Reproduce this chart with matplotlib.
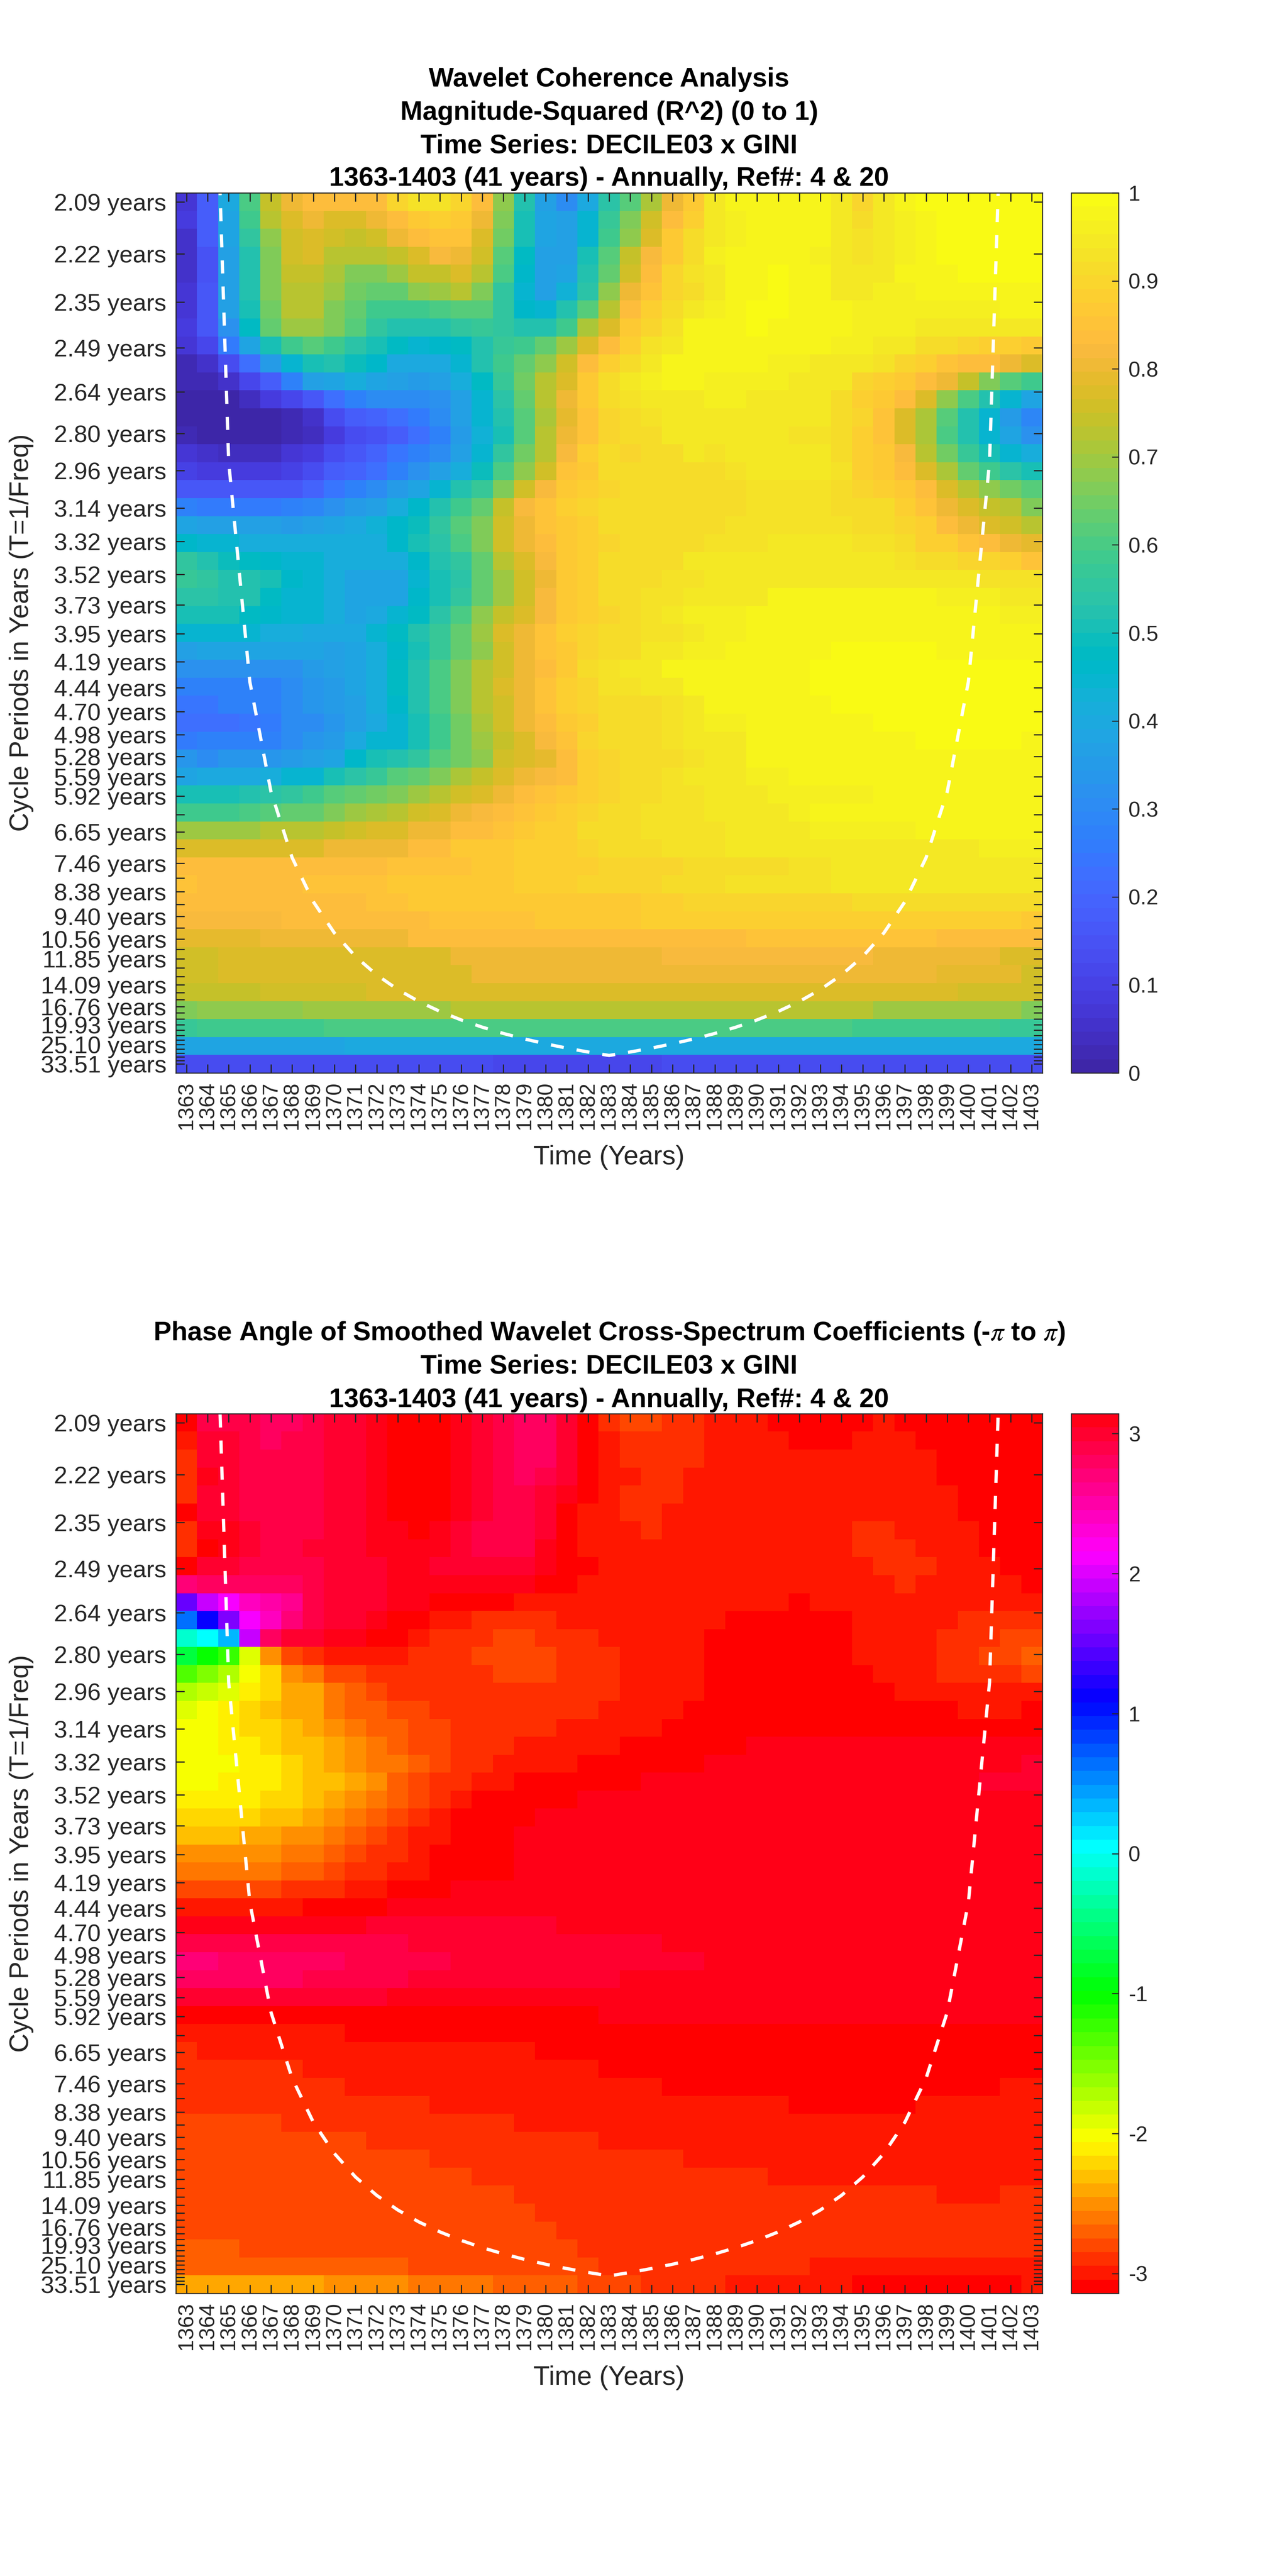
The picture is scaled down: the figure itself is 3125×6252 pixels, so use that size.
import colorsys

import numpy as np
import matplotlib
matplotlib.use("Agg")
import matplotlib.pyplot as plt
from matplotlib.colors import ListedColormap

plt.rcParams["font.family"] = ["Liberation Sans", "DejaVu Sans"]
plt.rcParams["mathtext.fontset"] = "stix"

# ---------- DATA ----------
YEARS = list(range(1363, 1404))

# cycle period of every row, top to bottom
PERIODS = [2.09, 2.22, 2.35, 2.49, 2.64, 2.80, 2.96, 3.14, 3.32, 3.52, 3.73, 3.95, 4.19, 4.44, 4.70, 4.98,
           5.28, 5.59, 5.92, 6.28, 6.65, 7.05, 7.46, 7.91, 8.38, 8.88, 9.40, 9.96, 10.56, 11.18, 11.85,
           12.55, 13.30, 14.09, 14.93, 15.82, 16.76, 17.76, 18.81, 19.93, 21.12, 22.37, 23.70, 25.10,
           26.60, 28.18, 29.85, 31.63, 33.51]

# periods that carry a label on the y axis (the other ticks stay blank)
LABELLED = [2.09, 2.22, 2.35, 2.49, 2.64, 2.80, 2.96, 3.14, 3.32, 3.52, 3.73, 3.95, 4.19, 4.44, 4.70, 4.98,
            5.28, 5.59, 5.92, 6.65, 7.46, 8.38, 9.40, 10.56, 11.85, 14.09, 16.76, 19.93, 25.10, 33.51]

# cone of influence, years 1364..1402, in years of period
COI_YEARS = list(range(1364, 1403))
COI_PERIODS = [1.46, 2.92, 4.38, 5.84, 7.30, 8.76, 10.22, 11.68, 13.14, 14.60, 16.06, 17.52, 18.98, 20.44,
               21.90, 23.36, 24.82, 26.28, 27.74, 29.20, 27.74, 26.28, 24.82, 23.36, 21.90, 20.44, 18.98,
               17.52, 16.06, 14.60, 13.14, 11.68, 10.22, 8.76, 7.30, 5.84, 4.38, 2.92, 1.46]

# magnitude-squared coherence in hundredths, one row per period
COHERENCE = [
    [7,18,40,60,74,81,83,83,83,84,90,93,93,90,83,68,52,36,31,40,54,62,71,81,87,94,97,97,97,97,97,95,90,94,97,99,99,99,99,99,99],
    [8,18,39,58,72,78,81,78,78,81,84,87,89,87,80,66,51,39,36,45,57,66,75,84,89,94,96,97,97,97,97,95,92,94,96,98,99,99,99,99,99],
    [6,18,38,55,68,76,78,76,74,76,80,84,85,85,77,65,51,38,36,45,59,68,77,86,91,94,96,97,97,97,97,95,93,94,96,97,99,99,99,99,99],
    [6,15,36,53,67,75,77,73,72,72,74,78,82,81,75,62,47,37,36,50,62,74,82,87,91,96,97,97,97,97,96,95,93,94,96,97,99,99,99,99,99],
    [6,15,36,53,67,74,74,71,67,67,69,74,74,77,72,60,46,36,39,52,64,75,84,90,93,95,97,97,99,97,98,95,95,94,97,98,98,99,99,99,99],
    [7,16,36,53,67,73,73,70,65,64,64,68,70,72,66,55,45,36,43,54,68,80,85,90,92,95,97,97,99,97,98,94,94,96,96,97,98,98,98,98,98],
    [7,17,36,51,65,73,73,67,63,59,58,59,60,62,61,55,46,45,52,62,73,84,88,92,95,96,97,99,99,97,97,97,96,96,96,96,96,96,96,97,97],
    [9,16,32,48,63,70,70,66,61,56,53,52,53,56,57,56,52,53,59,71,78,87,90,93,97,97,98,99,97,97,97,97,96,96,96,95,95,95,95,95,95],
    [7,12,25,39,51,59,61,58,54,50,47,45,46,48,53,57,58,63,70,78,84,89,93,95,97,97,97,97,97,97,97,96,96,95,95,92,92,90,89,89,87],
    [2,6,13,23,35,45,51,52,49,46,40,40,40,45,52,58,63,68,76,83,89,92,95,97,97,98,98,98,96,96,95,95,95,93,90,89,85,84,83,81,77],
    [2,2,5,11,18,27,37,39,41,38,36,35,36,41,48,57,65,72,78,87,92,94,96,97,97,96,96,96,96,95,95,95,90,89,86,83,80,74,67,62,58],
    [1,1,1,4,8,12,17,22,28,30,30,31,32,37,45,54,64,72,80,87,92,93,95,95,95,96,96,95,95,94,94,92,88,87,83,78,68,60,52,45,38],
    [1,0,0,0,0,3,6,13,18,20,22,25,30,36,45,52,61,71,79,85,90,91,93,94,95,95,95,95,94,94,94,92,90,85,78,71,62,52,44,35,29],
    [2,1,0,0,1,3,4,9,13,15,18,22,28,35,43,51,62,72,80,85,90,91,92,94,95,95,95,94,94,93,93,92,88,85,78,71,60,52,45,38,32],
    [7,5,4,4,4,7,8,14,17,19,24,27,30,36,45,55,65,72,82,88,91,90,91,92,94,93,94,94,94,94,94,92,89,86,82,73,65,57,51,45,42],
    [10,9,9,9,9,10,14,18,20,23,28,32,36,42,49,60,68,76,85,87,92,91,91,92,92,92,93,94,94,94,94,93,89,87,83,77,71,64,58,54,50],
    [17,16,16,16,16,16,20,24,28,31,35,38,45,52,57,67,75,82,86,89,90,91,91,91,91,91,92,93,93,93,93,92,90,89,86,83,78,73,68,65,61],
    [27,26,26,26,26,27,29,32,35,37,42,46,52,58,64,74,82,85,88,90,92,91,91,91,92,92,92,93,93,93,93,92,92,91,88,85,81,78,74,72,66],
    [38,37,36,36,36,35,36,38,40,43,46,49,56,62,67,76,80,85,87,89,91,91,91,92,92,92,93,93,93,93,93,93,92,91,90,89,84,81,78,75,73],
    [46,45,44,42,41,41,41,41,41,41,46,50,54,60,67,75,80,83,86,88,90,91,91,92,92,93,93,93,94,94,94,94,93,93,91,89,88,85,83,81,79],
    [55,52,49,48,46,45,44,41,41,41,41,46,52,56,63,72,77,82,87,89,91,91,91,92,94,94,94,94,94,94,94,94,94,94,93,92,91,90,90,88,85],
    [57,55,52,53,50,46,44,41,39,39,39,45,50,54,63,70,76,81,86,88,91,91,92,93,93,94,94,95,95,95,95,95,95,95,94,94,94,94,93,93,93],
    [54,54,53,53,47,45,44,41,39,39,39,46,50,55,63,70,76,82,86,88,91,91,93,93,94,95,95,95,97,97,97,97,97,97,97,97,96,96,96,95,95],
    [50,50,50,48,46,45,44,41,39,40,45,48,54,60,68,74,78,82,86,88,90,92,93,94,96,96,96,97,97,97,97,97,97,97,97,97,97,97,97,96,96],
    [45,45,45,45,42,41,40,40,40,44,47,52,57,64,70,77,81,85,88,90,91,92,93,93,94,96,96,97,97,98,98,98,98,98,98,98,98,97,97,97,97],
    [37,38,39,39,39,39,39,37,38,41,46,50,57,63,68,75,81,85,87,90,91,92,94,95,96,96,97,97,97,97,98,99,99,99,99,99,97,97,97,97,97],
    [32,32,32,32,32,32,35,37,38,42,48,52,60,66,72,76,80,84,87,91,93,94,95,97,97,97,97,97,97,97,99,99,99,99,99,99,99,99,99,99,99],
    [27,27,27,28,28,30,34,35,38,42,47,52,60,66,72,77,80,85,88,90,93,93,95,95,97,97,97,97,98,98,99,99,99,99,99,99,99,99,99,99,99],
    [24,24,27,27,27,30,33,35,37,41,46,52,60,66,72,76,80,85,88,90,92,92,92,93,95,97,97,97,98,98,98,99,99,99,99,99,99,99,99,99,99],
    [23,23,23,24,26,30,31,33,36,40,45,50,58,65,71,76,80,84,87,89,91,92,92,93,94,96,96,97,98,98,98,98,98,99,99,99,99,99,99,99,99],
    [26,27,27,27,28,31,33,35,40,44,45,50,58,65,70,74,78,82,85,90,91,92,92,93,94,95,95,97,98,98,98,98,98,98,98,99,99,99,99,99,98],
    [33,31,33,33,33,35,37,38,46,50,53,56,62,65,68,75,77,79,83,89,90,91,92,92,93,95,95,97,97,98,98,98,98,98,98,98,98,98,98,98,98],
    [39,40,40,40,41,45,45,51,54,57,61,63,66,71,74,77,80,82,84,88,90,91,92,93,94,95,95,96,96,97,98,98,98,98,98,98,98,98,98,98,98],
    [50,50,50,53,54,56,58,61,63,65,67,70,72,75,78,81,83,85,87,89,90,91,92,93,93,94,95,95,96,96,96,96,96,98,98,98,98,98,98,98,98],
    [58,58,58,60,61,63,64,66,69,71,73,75,78,80,82,84,85,87,89,90,91,91,93,93,93,94,94,95,95,96,97,97,97,97,97,97,97,97,97,97,97],
    [70,70,70,70,72,73,73,74,76,77,78,80,81,83,84,85,87,88,89,91,92,92,93,93,93,93,94,95,95,95,96,96,96,96,96,97,97,97,97,97,97],
    [78,78,78,78,78,78,78,80,80,81,81,83,84,86,86,87,88,88,89,90,92,92,92,93,93,93,94,94,94,94,95,95,95,95,95,95,95,95,96,96,96],
    [83,83,83,83,83,83,83,83,83,84,85,85,85,85,86,87,88,88,88,89,90,90,90,90,91,91,91,92,92,93,93,94,94,94,94,94,94,94,94,94,94],
    [85,83,83,83,83,83,85,85,85,85,86,86,86,86,87,87,88,88,88,90,90,90,90,91,92,92,93,93,93,93,93,94,94,94,94,94,94,94,94,94,94],
    [84,84,84,84,84,84,84,84,84,85,85,86,86,86,87,87,87,87,87,87,87,87,88,88,90,90,90,90,90,90,90,90,91,91,91,91,91,91,91,91,91],
    [82,82,82,82,82,84,84,84,84,84,84,84,85,85,85,85,85,86,86,86,86,86,88,88,88,88,88,88,88,89,89,89,89,89,89,89,89,89,89,89,86],
    [79,79,79,79,81,81,81,81,81,81,81,83,83,83,83,83,83,83,84,84,84,84,84,84,84,84,84,85,85,85,85,85,85,85,85,85,84,84,84,84,84],
    [76,76,77,77,77,77,77,78,78,78,78,78,78,80,80,80,80,80,80,80,80,80,80,82,82,82,82,82,82,82,82,82,82,81,81,81,81,81,81,78,78],
    [75,75,77,77,77,77,77,78,78,78,78,78,78,78,80,80,80,80,80,80,80,80,80,80,80,80,80,80,80,80,80,80,80,80,80,80,79,79,79,79,76],
    [74,74,74,74,75,75,75,75,75,77,77,77,77,77,77,77,77,77,77,77,77,78,78,78,78,78,78,78,78,77,77,77,77,77,77,77,77,75,75,75,75],
    [67,68,68,68,68,68,70,70,70,70,70,70,70,72,72,72,72,72,72,72,72,72,72,72,72,72,72,72,72,72,72,72,72,70,70,70,70,70,70,69,67],
    [57,59,59,59,59,59,59,60,60,60,60,60,60,60,60,60,60,60,60,60,60,60,60,60,60,60,60,60,60,60,60,60,59,59,59,59,59,59,58,57,57],
    [38,39,39,39,39,39,39,39,40,40,40,40,40,40,40,40,40,40,40,40,40,40,40,40,40,40,40,40,40,40,40,40,40,40,40,40,40,40,40,40,40],
    [13,13,13,13,13,13,13,13,13,13,13,13,13,13,13,12,12,12,12,12,12,12,12,13,13,13,13,13,13,13,13,13,13,13,13,13,13,13,13,13,13],
]

# phase angle, read as the level (0..63) of the 64 step colour bar from -pi upwards
PHASE_LEVELS = [
    [0,61,61,61,60,60,61,62,62,63,0,0,0,63,62,61,60,60,62,0,2,3,3,2,2,1,1,1,0,0,0,0,0,1,0,0,0,0,0,0,0],
    [1,62,62,61,60,61,61,62,62,63,0,0,0,63,62,61,60,60,62,0,1,2,2,2,2,1,1,1,1,0,0,0,1,1,1,0,0,0,0,0,0],
    [2,62,62,61,61,61,61,62,62,63,0,0,0,63,62,61,60,60,62,0,1,2,2,2,2,1,1,1,1,1,1,1,1,1,1,1,0,0,0,0,0],
    [2,63,62,61,61,61,61,62,62,63,0,0,0,63,62,61,60,61,62,0,1,1,2,2,1,1,1,1,1,1,1,1,1,1,1,1,0,0,0,0,0],
    [2,62,62,61,61,61,61,62,62,63,0,0,0,63,62,61,61,62,63,0,1,2,2,2,1,1,1,1,1,1,1,1,1,1,1,1,1,0,0,0,0],
    [0,62,62,61,61,61,61,62,62,63,0,0,0,63,62,61,61,62,0,1,1,2,2,1,1,1,1,1,1,1,1,1,1,1,1,1,1,0,0,0,0],
    [2,63,63,62,61,61,61,62,62,63,63,0,63,62,61,61,61,62,0,1,1,1,2,1,1,1,1,1,1,1,1,1,2,2,1,1,1,1,0,0,0],
    [2,0,63,62,61,61,62,62,62,63,63,63,63,62,61,61,61,63,0,1,1,1,1,1,1,1,1,1,1,1,1,1,2,2,2,1,1,1,0,0,0],
    [0,62,62,61,61,61,61,62,62,62,63,63,62,62,62,62,62,63,0,0,1,1,1,1,1,1,1,1,1,1,1,1,1,2,2,2,1,1,1,0,0],
    [59,60,60,60,60,60,61,62,62,62,63,63,63,63,63,63,63,0,0,1,1,1,1,1,1,1,1,1,1,1,1,1,1,1,2,1,1,1,1,1,0],
    [47,51,53,56,57,58,61,62,62,62,63,63,0,0,0,0,1,1,1,1,1,1,1,1,1,1,1,1,1,0,1,1,1,1,1,1,1,1,1,1,1],
    [38,43,48,53,56,59,61,62,62,63,0,0,1,1,2,2,2,2,1,1,1,1,1,1,1,1,0,0,0,0,0,0,1,1,1,1,1,2,2,2,2],
    [30,32,35,51,60,62,62,63,63,0,0,1,2,2,2,3,3,2,2,2,1,1,1,1,1,0,0,0,0,0,0,0,1,1,1,1,2,2,2,3,3],
    [24,21,19,12,6,3,2,1,1,1,1,2,2,2,3,3,3,3,2,2,2,1,1,1,1,0,0,0,0,0,0,0,1,1,1,1,2,2,3,3,4],
    [18,16,14,11,9,6,5,3,3,2,2,2,2,2,2,3,3,3,2,2,2,1,1,1,1,0,0,0,0,0,0,0,0,1,1,1,2,2,2,2,3],
    [14,13,12,10,9,7,7,5,4,3,2,2,2,2,2,2,2,2,2,2,2,1,1,1,1,0,0,0,0,0,0,0,0,0,1,1,1,1,1,1,1],
    [12,11,10,9,8,7,7,5,4,4,3,3,2,2,2,2,2,2,2,2,1,1,1,1,0,0,0,0,0,0,0,0,0,0,0,0,0,1,1,1,0],
    [11,11,10,9,9,8,7,6,5,4,4,3,3,2,2,2,2,2,1,1,1,1,1,0,0,0,0,0,0,0,0,0,0,0,0,0,0,0,0,0,0],
    [11,11,10,10,9,8,8,7,6,5,4,3,3,2,2,2,1,1,1,1,1,0,0,0,0,0,0,63,63,63,63,63,63,63,63,63,63,63,63,63,63],
    [11,11,11,10,10,9,8,7,6,5,5,4,3,2,2,1,1,1,1,0,0,0,0,0,0,63,63,63,63,63,63,63,63,63,63,63,63,63,63,63,62],
    [11,11,10,10,10,9,8,8,7,6,4,3,2,2,1,1,0,0,0,0,0,0,63,63,63,63,63,63,63,63,63,63,63,63,63,63,63,63,62,62,62],
    [10,10,10,10,9,9,8,7,6,5,4,3,2,1,0,0,0,0,0,63,63,63,63,63,63,63,63,63,63,63,63,63,63,63,63,63,63,63,63,63,63],
    [9,9,9,9,8,8,7,6,5,4,3,2,1,0,0,0,0,63,63,63,63,63,63,63,63,63,63,63,63,63,63,63,63,63,63,63,63,63,63,63,63],
    [8,8,8,7,7,6,6,5,4,3,2,1,1,0,0,0,63,63,63,63,63,63,63,63,63,63,63,63,63,63,63,63,63,63,63,63,63,63,63,63,63],
    [6,6,6,6,6,5,5,4,3,2,2,1,0,0,0,0,63,63,63,63,63,63,63,63,63,63,63,63,63,63,63,63,63,63,63,63,63,63,63,63,63],
    [5,5,5,5,5,4,4,3,2,2,1,1,0,0,0,0,63,63,63,63,63,63,63,63,63,63,63,63,63,63,63,63,63,63,63,63,63,63,63,63,63],
    [3,3,3,3,3,2,2,2,1,1,0,0,0,63,63,63,63,63,63,63,63,63,63,63,63,63,63,63,63,63,63,63,63,63,63,63,63,63,63,63,63],
    [1,1,1,1,1,1,0,0,0,0,63,63,63,63,63,63,63,63,63,63,63,63,63,63,63,63,63,63,63,63,63,63,63,63,63,63,63,63,63,63,63],
    [63,63,63,63,63,63,63,63,63,62,62,62,62,62,62,62,62,62,63,63,63,63,63,63,63,63,63,63,63,63,63,63,63,63,63,63,63,63,63,63,63],
    [61,61,61,61,61,61,61,61,61,61,61,62,62,62,62,62,62,62,62,62,62,62,62,63,63,63,63,63,63,63,63,63,63,63,63,63,63,63,63,63,63],
    [59,59,60,60,60,60,60,60,61,61,61,61,61,62,62,62,62,62,62,62,62,62,62,62,62,63,63,63,63,63,63,63,63,63,63,63,63,63,63,63,63],
    [60,60,60,60,60,60,61,61,61,61,61,62,62,62,62,62,62,62,62,62,62,63,63,63,63,63,63,63,63,63,63,63,63,63,63,63,63,63,63,63,63],
    [62,62,62,62,62,62,62,62,62,62,63,63,63,63,63,63,63,63,63,63,63,63,63,63,63,63,63,63,63,63,63,63,63,63,63,63,63,63,63,63,63],
    [0,0,0,0,0,0,0,0,0,0,0,0,0,0,0,0,0,0,0,0,63,63,63,63,63,63,63,63,63,63,63,63,63,63,63,63,63,63,63,63,63],
    [1,1,1,1,1,1,1,1,0,0,0,0,0,0,0,0,0,0,0,0,0,0,0,0,0,0,0,0,0,0,0,0,0,0,0,0,0,0,0,0,0],
    [2,1,1,1,1,1,1,1,1,1,1,1,1,1,1,1,1,0,0,0,0,0,0,0,0,0,0,0,0,0,0,0,0,0,0,0,0,0,0,0,0],
    [2,2,2,2,2,2,1,1,1,1,1,1,1,1,1,1,1,1,1,1,0,0,0,0,0,0,0,0,0,0,0,0,0,0,0,0,0,0,0,0,0],
    [2,2,2,2,2,2,2,2,1,1,1,1,1,1,1,1,1,1,1,1,1,1,1,0,0,0,0,0,0,0,0,0,0,0,0,0,0,0,0,1,1],
    [2,2,2,2,2,2,2,2,2,2,2,2,1,1,1,1,1,1,1,1,1,1,1,1,1,1,1,1,1,0,0,0,0,0,0,1,1,1,1,1,1],
    [3,3,3,3,3,2,2,2,2,2,2,2,2,2,2,2,1,1,1,1,1,1,1,1,1,1,1,1,1,1,1,1,1,1,1,1,1,1,1,1,1],
    [3,3,3,3,3,3,3,3,3,2,2,2,2,2,2,2,2,2,2,2,1,1,1,1,1,1,1,1,1,1,1,1,1,1,1,1,1,1,1,1,1],
    [3,3,3,3,3,3,3,3,3,3,3,3,2,2,2,2,2,2,2,2,2,2,2,2,1,1,1,1,1,1,1,1,1,1,1,1,1,1,1,1,1],
    [3,3,3,3,3,3,3,3,3,3,3,3,3,3,2,2,2,2,2,2,2,2,2,2,2,2,2,2,1,1,1,1,1,1,1,1,1,1,1,1,1],
    [3,3,3,3,3,3,3,3,3,3,3,3,3,3,3,3,2,2,2,2,2,2,2,2,2,2,2,2,2,2,2,2,2,2,2,2,1,1,1,2,2],
    [3,3,3,3,3,3,3,3,3,3,3,3,3,3,3,3,3,2,2,2,2,2,2,2,2,2,2,2,2,2,2,2,2,2,2,2,2,2,2,2,2],
    [3,3,3,3,3,3,3,3,3,3,3,3,3,3,3,3,3,3,2,2,2,2,2,2,2,2,2,2,2,2,2,2,2,2,2,2,2,2,2,2,2],
    [4,4,4,3,3,3,3,3,3,3,3,3,3,3,3,3,3,3,3,2,2,2,2,2,2,2,2,2,2,2,2,2,2,2,2,2,2,2,2,2,2],
    [4,4,4,4,4,4,4,4,4,4,4,3,3,3,3,3,3,3,3,3,2,2,2,2,2,2,2,2,2,2,1,1,1,1,1,1,1,1,1,1,1],
    [7,7,7,7,7,7,7,6,6,6,6,5,5,5,5,4,4,4,4,3,3,3,2,2,2,2,1,1,1,1,1,1,0,0,0,0,0,0,0,0,1],
]

# MATLAB parula, 64 steps
PARULA = [
    (0.2422,0.1504,0.6603),(0.2504,0.1650,0.7076),(0.2578,0.1818,0.7511),(0.2647,0.1978,0.7952),
    (0.2706,0.2147,0.8364),(0.2751,0.2342,0.8710),(0.2783,0.2559,0.8991),(0.2803,0.2782,0.9221),
    (0.2813,0.3006,0.9414),(0.2810,0.3228,0.9579),(0.2795,0.3447,0.9717),(0.2760,0.3667,0.9829),
    (0.2699,0.3892,0.9906),(0.2602,0.4123,0.9952),(0.2440,0.4358,0.9988),(0.2206,0.4603,0.9973),
    (0.1963,0.4847,0.9892),(0.1834,0.5074,0.9798),(0.1786,0.5289,0.9682),(0.1764,0.5499,0.9520),
    (0.1687,0.5703,0.9359),(0.1540,0.5902,0.9218),(0.1460,0.6091,0.9079),(0.1380,0.6276,0.8973),
    (0.1248,0.6459,0.8883),(0.1113,0.6635,0.8763),(0.0952,0.6798,0.8598),(0.0689,0.6948,0.8394),
    (0.0297,0.7082,0.8163),(0.0036,0.7203,0.7917),(0.0067,0.7312,0.7660),(0.0433,0.7411,0.7394),
    (0.0964,0.7500,0.7120),(0.1408,0.7584,0.6842),(0.1717,0.7670,0.6554),(0.1938,0.7758,0.6251),
    (0.2161,0.7843,0.5923),(0.2470,0.7918,0.5567),(0.2906,0.7973,0.5188),(0.3406,0.8008,0.4789),
    (0.3909,0.8029,0.4354),(0.4456,0.8024,0.3909),(0.5044,0.7993,0.3480),(0.5616,0.7942,0.3045),
    (0.6174,0.7876,0.2612),(0.6720,0.7793,0.2227),(0.7242,0.7698,0.1910),(0.7738,0.7598,0.1646),
    (0.8203,0.7498,0.1535),(0.8634,0.7406,0.1596),(0.9035,0.7330,0.1774),(0.9393,0.7288,0.2100),
    (0.9728,0.7298,0.2394),(0.9956,0.7434,0.2371),(0.9970,0.7659,0.2199),(0.9952,0.7893,0.2028),
    (0.9892,0.8136,0.1885),(0.9786,0.8386,0.1766),(0.9676,0.8639,0.1643),(0.9610,0.8890,0.1537),
    (0.9597,0.9135,0.1423),(0.9628,0.9373,0.1265),(0.9691,0.9606,0.1064),(0.9769,0.9839,0.0805),
]

TITLE_TOP = ["Wavelet Coherence Analysis", "Magnitude-Squared (R^2) (0 to 1)",
             "Time Series: DECILE03 x GINI", "1363-1403 (41 years) - Annually, Ref#: 4 & 20"]
TITLE_BOTTOM = [r"Phase Angle of Smoothed Wavelet Cross-Spectrum Coefficients (-$\pi$ to $\pi$)",
                "Time Series: DECILE03 x GINI", "1363-1403 (41 years) - Annually, Ref#: 4 & 20"]

# ---------- LAYOUT (pixels of the 3125 x 6252 picture) ----------
W, H = 3125, 6252
DPI = 300
AX_LEFT, AX_RIGHT = 427, 2531
CB_LEFT, CB_RIGHT = 2601, 2716
INK = (0.15, 0.15, 0.15)
F_TOP = 1 / 2.0944   # first row, 2.09 years before rounding
F_BOTTOM = 1 / 33.51


def axes_px(fig, left, right, top, bottom):
    return fig.add_axes([left / W, 1 - bottom / H, (right - left) / W, (bottom - top) / H])


def draw_panel(fig, matrix, cmap, vmin, vmax, top, bottom, title_lines, title_y, cb_ticks, cb_labels):
    ax = axes_px(fig, AX_LEFT, AX_RIGHT, top, bottom)
    half = (F_TOP - F_BOTTOM) / (len(PERIODS) - 1) / 2
    extent = (YEARS[0] - 0.5, YEARS[-1] + 0.5, F_BOTTOM - half, F_TOP + half)
    im = ax.imshow(matrix, cmap=cmap, vmin=vmin, vmax=vmax, extent=extent, aspect="auto",
                   origin="upper", interpolation="nearest")

    # dashed cone of influence
    ax.plot(COI_YEARS, 1 / np.array(COI_PERIODS), color="white", linewidth=1.9,
            linestyle=(0, (4, 4)), clip_on=True)

    ax.set_xlim(extent[0], extent[1])
    ax.set_ylim(extent[2], extent[3])

    ticks = 1 / np.array(PERIODS)
    ticks[0] = F_TOP
    labels = [f"{p:.2f} years" if p in LABELLED else "" for p in PERIODS]
    ax.set_yticks(ticks)
    ax.set_yticklabels(labels, fontsize=14, color=INK)
    ax.set_xticks(YEARS)
    ax.set_xticklabels([str(y) for y in YEARS], rotation=90, fontsize=12.5, color=INK)
    ax.tick_params(axis="both", direction="in", length=5, width=0.7, color=INK, top=True, right=True)
    ax.tick_params(axis="x", pad=5)
    ax.tick_params(axis="y", pad=5.5)
    for s in ax.spines.values():
        s.set_color(INK)
        s.set_linewidth(0.6)

    height = bottom - top
    ax.set_xlabel("Time (Years)", fontsize=15.6, color=INK, va="center")
    ax.xaxis.set_label_coords(0.5, -205 / height)
    ax.set_ylabel("Cycle Periods in Years (T=1/Freq)", fontsize=15.4, color=INK, va="center")
    ax.yaxis.set_label_coords((52 - AX_LEFT) / (AX_RIGHT - AX_LEFT), 0.5)

    for line, y in zip(title_lines, title_y):
        fig.text((AX_LEFT + AX_RIGHT) / 2 / W, 1 - y / H, line, ha="center", va="center",
                 fontsize=15.5, fontweight="bold", color="black")

    cax = axes_px(fig, CB_LEFT, CB_RIGHT, top, bottom)
    cb = fig.colorbar(im, cax=cax)
    cb.set_ticks(cb_ticks)
    cb.set_ticklabels(cb_labels)
    cb.ax.tick_params(direction="in", length=3.8, width=0.6, color=INK, labelsize=12.5,
                      labelcolor=INK, pad=5.8)
    cb.outline.set_edgecolor(INK)
    cb.outline.set_linewidth(0.6)
    return ax


def main():
    fig = plt.figure(figsize=(W / DPI, H / DPI), dpi=DPI, facecolor="white")

    coherence = np.array(COHERENCE) / 100
    phase = -np.pi + (np.array(PHASE_LEVELS) + 0.5) * 2 * np.pi / 64

    hsv_colors = [colorsys.hsv_to_rgb(i / 64, 1, 1) for i in range(64)]

    draw_panel(fig, coherence, ListedColormap(PARULA), 0, 1, 468, 2604, TITLE_TOP,
               [193, 274, 354, 434],
               [0, 0.1, 0.2, 0.3, 0.4, 0.5, 0.6, 0.7, 0.8, 0.9, 1],
               ["0", "0.1", "0.2", "0.3", "0.4", "0.5", "0.6", "0.7", "0.8", "0.9", "1"])

    draw_panel(fig, phase, ListedColormap(hsv_colors), -np.pi, np.pi, 3431, 5566, TITLE_BOTTOM,
               [3236, 3317, 3398],
               [-3, -2, -1, 0, 1, 2, 3],
               ["-3", "-2", "-1", "0", "1", "2", "3"])

    fig.savefig("out.png", dpi=DPI, facecolor="white")


if __name__ == "__main__":
    main()
